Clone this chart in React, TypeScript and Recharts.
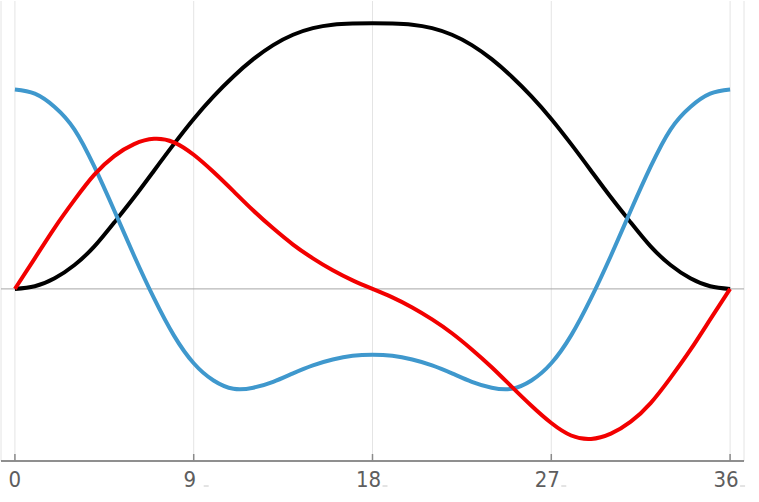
import React from 'react'
import { LineChart, Line, CartesianGrid, XAxis, YAxis, ReferenceLine } from 'recharts'

const xs = [
	0, 1, 2, 3, 4, 5, 6, 7, 8, 9, 10, 11, 12, 13, 14, 15, 16, 17, 18,
	19, 20, 21, 22, 23, 24, 25, 26, 27, 28, 29, 30, 31, 32, 33, 34, 35, 36,
]

const blackValues = [
	0, 0.01, 0.04, 0.09, 0.16, 0.25, 0.345, 0.445, 0.545, 0.64, 0.725, 0.8, 0.865, 0.918, 0.957, 0.982, 0.995, 0.999, 1,
	0.999, 0.995, 0.982, 0.957, 0.918, 0.865, 0.8, 0.725, 0.64, 0.545, 0.445, 0.345, 0.25, 0.16, 0.09, 0.04, 0.01, 0,
]

const blueValues = [
	0.751, 0.735, 0.685, 0.6, 0.46, 0.295, 0.125, -0.035, -0.175, -0.28, -0.345, -0.376, -0.372, -0.35, -0.318, -0.288, -0.266, -0.252, -0.248,
	-0.252, -0.266, -0.288, -0.318, -0.35, -0.372, -0.376, -0.345, -0.28, -0.175, -0.035, 0.125, 0.295, 0.46, 0.6, 0.685, 0.735, 0.751,
]

const redValues = [
	0, 0.115, 0.23, 0.335, 0.43, 0.5, 0.545, 0.565, 0.552, 0.505, 0.44, 0.368, 0.295, 0.228, 0.167, 0.115, 0.07, 0.032, 0,
	-0.032, -0.07, -0.115, -0.167, -0.228, -0.295, -0.368, -0.44, -0.505, -0.552, -0.565, -0.545, -0.5, -0.43, -0.335, -0.23, -0.115, 0,
]

const xTicks = [0, 9, 18, 27, 36]

const data = xs.map((x, i) => ({
	x,
	black: blackValues[i],
	blue: blueValues[i],
	red: redValues[i],
}))

const xDomain = [-0.7, 36.7]
const yDomain = [-0.648, 1.084]

// tick label with the little trailing dash the original has (not on 0)
const TickLabel = (props: any) => {
	const { x, y, payload } = props
	const v = payload.value
	const shift = v === 0 ? 0 : -4
	const base = y + 18
	return (
		<g>
			<text
				x={x + shift}
				y={base}
				textAnchor={'middle'}
				fill={'#5e5e5e'}
				fontSize={22}
				fontFamily={"'Liberation Sans Narrow', 'DejaVu Sans Condensed', sans-serif"}
			>
				{v}
			</text>
			{v !== 0 && (
				<line x1={x + 10} x2={x + 15} y1={base - 1} y2={base - 1} stroke={'#c8c8c8'} strokeWidth={1} />
			)}
		</g>
	)
}

export default function App() {
	return (
		<div style={{ position: 'absolute', left: 0, top: 0 }}>
			<LineChart
				width={759}
				height={502}
				data={data}
				margin={{ top: 1, right: 15, bottom: 0, left: 1 }}
			>
				<CartesianGrid stroke={'#e4e4e4'} horizontal={false} />
				<XAxis
					dataKey={'x'}
					type={'number'}
					domain={xDomain}
					ticks={xTicks}
					allowDataOverflow
					height={41}
					axisLine={{ stroke: '#6a6a6a', strokeWidth: 1.5 }}
					tickLine={{ stroke: '#8a8a8a', strokeWidth: 1.5 }}
					tickSize={-7}
					tickMargin={15}
					tick={<TickLabel />}
				/>
				<XAxis
					xAxisId={'top'}
					orientation={'top'}
					type={'number'}
					domain={xDomain}
					height={0}
					tick={false}
					tickLine={false}
					axisLine={{ stroke: '#6a6a6a', strokeWidth: 1.5 }}
				/>
				<YAxis
					type={'number'}
					domain={yDomain}
					allowDataOverflow
					width={0}
					tick={false}
					tickLine={false}
					axisLine={{ stroke: '#6a6a6a', strokeWidth: 1.5 }}
				/>
				<YAxis
					yAxisId={'right'}
					orientation={'right'}
					type={'number'}
					domain={yDomain}
					width={0}
					tick={false}
					tickLine={false}
					axisLine={{ stroke: '#aaa', strokeWidth: 1.5 }}
				/>
				<ReferenceLine y={0} stroke={'#a6a6a6'} strokeWidth={1} />
				<Line
					type={'natural'}
					dataKey={'black'}
					stroke={'#000'}
					strokeWidth={4}
					dot={false}
					isAnimationActive={false}
				/>
				<Line
					type={'natural'}
					dataKey={'blue'}
					stroke={'#3f98cd'}
					strokeWidth={4}
					dot={false}
					isAnimationActive={false}
				/>
				<Line
					type={'natural'}
					dataKey={'red'}
					stroke={'#f20000'}
					strokeWidth={4}
					dot={false}
					isAnimationActive={false}
				/>
			</LineChart>
		</div>
	)
}
